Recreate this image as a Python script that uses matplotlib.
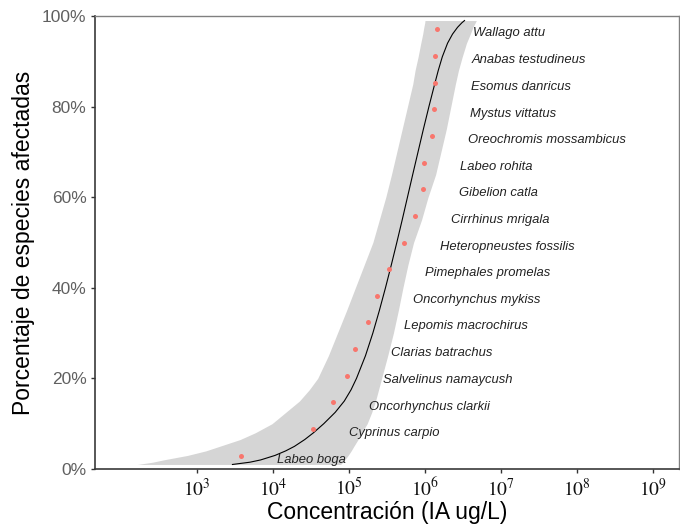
import matplotlib
matplotlib.use("Agg")
import matplotlib.pyplot as plt
import numpy as np

# Species sensitivity data (ug/L of active ingredient), sorted by concentration
species = [
    "Labeo boga", "Cyprinus carpio", "Oncorhynchus clarkii", "Salvelinus namaycush",
    "Clarias batrachus", "Lepomis macrochirus", "Oncorhynchus mykiss",
    "Pimephales promelas", "Heteropneustes fossilis", "Cirrhinus mrigala",
    "Gibelion catla", "Labeo rohita", "Oreochromis mossambicus", "Mystus vittatus",
    "Esomus danricus", "Anabas testudineus", "Wallago attu",
]
conc_ugL = [3780, 33500, 61200, 93300, 120000, 177000, 233000, 335000, 527000,
            735000, 935000, 964000, 1230000, 1310000, 1350000, 1360000, 1435000]
affected_pct = [2.9, 8.8, 14.7, 20.6, 26.5, 32.4, 38.2, 44.1, 50.0, 55.9,
                61.8, 67.6, 73.5, 79.4, 85.3, 91.2, 97.1]

# Fitted distribution and its confidence band (log10 of ug/L)
fit_pct = [1, 1.5, 2, 3, 4, 5, 6.5, 8, 10, 12.5, 15, 17.5, 20, 25, 30, 35, 40,
           45, 50, 55, 60, 65, 70, 75, 80, 85, 88, 91, 94, 96, 97.5, 98.5, 99]
fit_log_est = [3.47, 3.70, 3.84, 4.03, 4.17, 4.285, 4.42, 4.535, 4.67, 4.82,
               4.94, 5.029, 5.10, 5.218, 5.315, 5.401, 5.481, 5.557, 5.630,
               5.701, 5.770, 5.839, 5.909, 5.979, 6.052, 6.128, 6.175, 6.228,
               6.297, 6.362, 6.428, 6.485, 6.52]
fit_log_lcl = [2.22, 2.42, 2.56, 2.88, 3.12, 3.30, 3.57, 3.77, 3.99, 4.17,
               4.35, 4.48, 4.59, 4.73, 4.85, 4.97, 5.085, 5.20, 5.315, 5.40,
               5.485, 5.56, 5.63, 5.70, 5.77, 5.84, 5.87, 5.91, 5.945, 5.97,
               5.985, 5.997, 6.0]
fit_log_ucl = [4.89, 4.92, 4.945, 4.99, 5.03, 5.065, 5.12, 5.17, 5.24, 5.30,
               5.35, 5.39, 5.43, 5.51, 5.585, 5.65, 5.71, 5.775, 5.85, 5.955,
               6.04, 6.14, 6.21, 6.28, 6.34, 6.40, 6.44, 6.49, 6.545, 6.595,
               6.63, 6.66, 6.675]

x_ticks = [1e3, 1e4, 1e5, 1e6, 1e7, 1e8, 1e9]
x_tick_labels = [r"$10^{3}$", r"$10^{4}$", r"$10^{5}$", r"$10^{6}$",
                 r"$10^{7}$", r"$10^{8}$", r"$10^{9}$"]
y_ticks = [0, 20, 40, 60, 80, 100]
y_tick_labels = ["0%", "20%", "40%", "60%", "80%", "100%"]

LABEL_SHIFT = 3.0

plt.rcParams["font.family"] = ["Liberation Sans", "DejaVu Sans"]
plt.rcParams["mathtext.fontset"] = "stix"

W, H = 680, 528
fig = plt.figure(figsize=(W / 100, H / 100), dpi=100)
left, right, top, bottom = 95, 679, 16, 469
ax = fig.add_axes([left / W, (H - bottom) / H, (right - left) / W, (bottom - top) / H])

ax.set_xscale("log")
ax.set_xlim(46.1, 2.18e9)
ax.set_ylim(0, 100)

est = np.power(10.0, fit_log_est)
lcl = np.power(10.0, fit_log_lcl)
ucl = np.power(10.0, fit_log_ucl)

ax.fill_betweenx(fit_pct, lcl, ucl, color="#d5d5d5", linewidth=0, zorder=1)
ax.plot(est, fit_pct, color="black", linewidth=0.8, zorder=2)
ax.plot(conc_ugL, affected_pct, linestyle="none", marker="o", markersize=3.6,
        markeredgewidth=0, color="#f8766d", zorder=3)

for name, c, p in zip(species, conc_ugL, affected_pct):
    ax.annotate(name, xy=(c * LABEL_SHIFT, p), xytext=(0, -5.2),
                textcoords="offset points", ha="left", va="baseline",
                fontsize=9.4, style="italic", color="#222222", zorder=4)

ax.set_xticks(x_ticks)
ax.set_xticklabels(x_tick_labels)
ax.xaxis.set_minor_locator(matplotlib.ticker.NullLocator())
ax.set_yticks(y_ticks)
ax.set_yticklabels(y_tick_labels)

ax.tick_params(axis="both", direction="out", length=3.2, width=1.0, color="#333333")
ax.tick_params(axis="x", labelsize=14, labelcolor="#111111", pad=3)
ax.tick_params(axis="y", labelsize=12.5, labelcolor="#606060", pad=3)

for side in ("left", "bottom"):
    ax.spines[side].set_color("#3a3a3a")
    ax.spines[side].set_linewidth(1.2)
for side in ("top", "right"):
    ax.spines[side].set_color("#808080")
    ax.spines[side].set_linewidth(1.0)

ax.set_xlabel("Concentración (IA ug/L)", fontsize=16.5, color="black", labelpad=1)
ax.set_ylabel("Porcentaje de especies afectadas", fontsize=16.5, color="black", labelpad=5)

fig.savefig("out.png", dpi=100)
